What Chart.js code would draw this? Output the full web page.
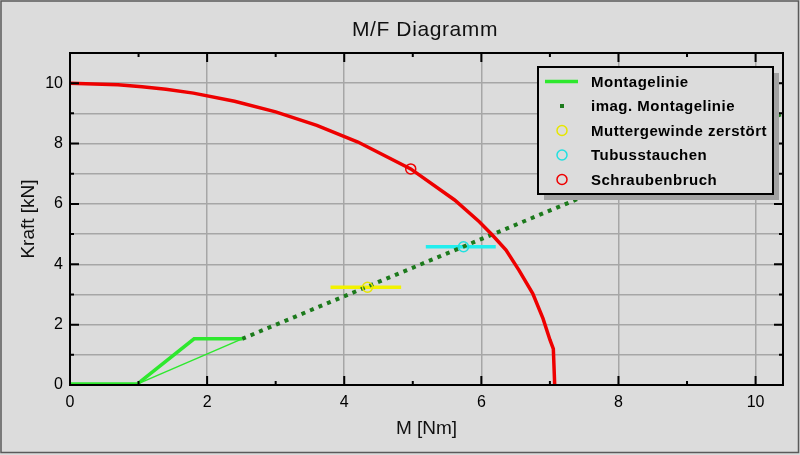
<!DOCTYPE html>
<html>
<head>
<meta charset="utf-8">
<title>M/F Diagramm</title>
<script src="https://cdn.jsdelivr.net/npm/chart.js@4"></script>
<style>
  html, body { margin: 0; padding: 0; background: #dcdcdc; overflow: hidden; }
  canvas { display: block; }
</style>
</head>
<body>
<canvas id="mfChart" width="800" height="455"></canvas>
<script>
// values (M in Nm, F in kN)
const montageM = [0, 0.98, 1.81, 2.51];
const montageF = [0.03, 0.03, 1.53, 1.53];
const montageBackM = [0.98, 2.51];
const montageBackF = [0.03, 1.53];
const imagM = [2.51, 10.4];
const imagF = [1.53, 9.0];
const mutterM = [3.8, 4.83];
const mutterF = [3.24, 3.24];
const mutterPointM = [4.34];
const mutterPointF = [3.24];
const tubusM = [5.19, 6.21];
const tubusF = [4.58, 4.58];
const tubusPointM = [5.74];
const tubusPointF = [4.58];
const bruchM = [0, 0.7, 1.05, 1.4, 1.8, 2.4, 3.0, 3.6, 4.2, 4.97, 5.61, 5.97, 6.16, 6.36, 6.55, 6.75, 6.9, 7.0, 7.05, 7.07];
const bruchF = [10, 9.95, 9.88, 9.8, 9.67, 9.4, 9.05, 8.6, 8.05, 7.16, 6.13, 5.41, 4.97, 4.47, 3.8, 3.03, 2.2, 1.5, 1.2, 0];
const bruchPointM = [4.97];
const bruchPointF = [7.16];
const xTicks = [0, 2, 4, 6, 8, 10];
const yTicks = [0, 2, 4, 6, 8, 10];

function pts(xs, ys) {
    return xs.map((x, i) => ({ x: x, y: ys[i] }));
}

function lineSet(label, xs, ys, color, width, order, extra) {
    return Object.assign({
        label: label,
        data: pts(xs, ys),
        showLine: true,
        borderColor: color,
        borderWidth: width,
        pointRadius: 0,
        order: order
    }, extra || {});
}

function markerSet(label, xs, ys, color, order) {
    return {
        label: label,
        data: pts(xs, ys),
        showLine: false,
        pointStyle: 'circle',
        pointRadius: 5,
        borderWidth: 1.5,
        borderColor: color,
        backgroundColor: 'rgba(0,0,0,0)',
        order: order,
        inLegend: true
    };
}

const datasets = [
    lineSet('Montagelinie', montageM, montageF, '#2ee82e', 3.5, 1, { inLegend: true }),
    lineSet('', montageBackM, montageBackF, '#2ee82e', 1.5, 1),
    lineSet('imag. Montagelinie', imagM, imagF, '#1c7a1c', 4, 1, { borderDash: [4, 5.2], inLegend: true }),
    lineSet('', mutterM, mutterF, '#f2f200', 3.5, 2),
    markerSet('Muttergewinde zerstört', mutterPointM, mutterPointF, '#e6e600', 0),
    lineSet('', tubusM, tubusF, '#22eeee', 3.5, 2),
    markerSet('Tubusstauchen', tubusPointM, tubusPointF, '#22e0e0', 0),
    lineSet('', bruchM, bruchF, '#ee0000', 3.5, 0),
    markerSet('Schraubenbruch', bruchPointM, bruchPointF, '#ee0000', 0)
];

// frame, inward ticks, title and legend box like the original plot
const framePlugin = {
    id: 'frame',
    beforeDraw(chart) {
        const ctx = chart.ctx;
        ctx.save();
        ctx.fillStyle = '#dcdcdc';
        ctx.fillRect(0, 0, chart.width, chart.height);
        ctx.restore();
    },
    afterDraw(chart) {
        const ctx = chart.ctx;
        const a = chart.chartArea;
        const xs = chart.scales.x, ys = chart.scales.y;
        ctx.save();
        // outer border
        ctx.strokeStyle = '#5a5a5a';
        ctx.lineWidth = 1.5;
        ctx.strokeRect(1, 1, chart.width - 2.5, chart.height - 3.5);
        // plot frame
        ctx.strokeStyle = '#000';
        ctx.lineWidth = 2;
        ctx.strokeRect(a.left, a.top, a.right - a.left, a.bottom - a.top);
        // inward ticks
        ctx.beginPath();
        for (let v = 0; v <= 10; v++) {
            const len = v % 2 === 0 ? 9 : 4;
            const px = xs.getPixelForValue(v);
            ctx.moveTo(px, a.bottom); ctx.lineTo(px, a.bottom - len);
            ctx.moveTo(px, a.top); ctx.lineTo(px, a.top + len);
        }
        for (let v = 0; v <= 10; v++) {
            const len = v % 2 === 0 ? 9 : 4;
            const py = ys.getPixelForValue(v);
            ctx.moveTo(a.left, py); ctx.lineTo(a.left + len, py);
            ctx.moveTo(a.right, py); ctx.lineTo(a.right - len, py);
        }
        ctx.stroke();
        // title
        ctx.fillStyle = '#111';
        ctx.font = '21px "Liberation Sans", Arial, sans-serif';
        ctx.letterSpacing = '0.6px';
        ctx.textAlign = 'center';
        ctx.textBaseline = 'middle';
        ctx.fillText('M/F Diagramm', 425, 30);

        // legend
        const bx = 538, by = 67, bw = 235, bh = 127;
        ctx.fillStyle = '#a2a2a2';
        ctx.fillRect(bx + 6, by + 6, bw, bh);
        ctx.fillStyle = '#dcdcdc';
        ctx.fillRect(bx, by, bw, bh);
        ctx.strokeStyle = '#000';
        ctx.lineWidth = 2;
        ctx.strokeRect(bx, by, bw, bh);
        const items = chart.data.datasets.filter(d => d.inLegend);
        ctx.font = 'bold 15px "Liberation Sans", Arial, sans-serif';
        ctx.letterSpacing = '0.5px';
        ctx.textAlign = 'left';
        items.forEach((d, i) => {
            const y = 81.5 + i * 24.5;
            ctx.strokeStyle = d.borderColor;
            ctx.fillStyle = d.borderColor;
            if (d.showLine && !d.borderDash) {
                ctx.lineWidth = 3.5;
                ctx.beginPath();
                ctx.moveTo(545, y); ctx.lineTo(578, y);
                ctx.stroke();
            } else if (d.showLine) {
                ctx.fillRect(560, y - 2, 4, 4);
            } else {
                ctx.lineWidth = 1.5;
                ctx.beginPath();
                ctx.arc(562, y, 5, 0, Math.PI * 2);
                ctx.stroke();
            }
            ctx.fillStyle = '#000';
            ctx.fillText(d.label, 591, y + 1);
        });
        ctx.restore();
    }
};

const ctx = document.getElementById('mfChart');

window.chart = new Chart(ctx, {
    type: 'scatter',
    data: { datasets: datasets },
    options: {
        responsive: false,
        animation: false,
        devicePixelRatio: 1,
        layout: { padding: { top: 53, right: 17, left: 0, bottom: 0 } },
        plugins: {
            legend: { display: false },
            tooltip: { enabled: false }
        },
        scales: {
            x: {
                type: 'linear',
                min: 0,
                max: 10.4,
                afterFit: s => { s.height = 70; },
                afterBuildTicks: s => { s.ticks = xTicks.map(v => ({ value: v })); },
                ticks: {
                    includeBounds: false,
                    color: '#000',
                    padding: 8,
                    font: { size: 16, family: '"Liberation Sans", Arial, sans-serif' }
                },
                grid: { color: '#a6a6a6', lineWidth: 1.5, drawTicks: false },
                border: { display: false },
                title: {
                    display: true,
                    text: 'M [Nm]',
                    color: '#111',
                    font: { size: 19, family: '"Liberation Sans", Arial, sans-serif' },
                    padding: { top: 0, bottom: 14.6 }
                }
            },
            y: {
                type: 'linear',
                min: 0,
                max: 11,
                afterFit: s => { s.width = 70; },
                ticks: {
                    stepSize: 1,
                    includeBounds: false,
                    color: '#000',
                    padding: 7,
                    font: { size: 16, family: '"Liberation Sans", Arial, sans-serif' },
                    callback: v => (yTicks.includes(v) ? v : '')
                },
                grid: { color: '#a6a6a6', lineWidth: 1.5, drawTicks: false },
                border: { display: false },
                title: {
                    display: true,
                    text: 'Kraft [kN]',
                    color: '#111',
                    font: { size: 19, family: '"Liberation Sans", Arial, sans-serif' },
                    padding: { top: 17.6, bottom: 0 }
                }
            }
        }
    },
    plugins: [framePlugin]
});
</script>
</body>
</html>
